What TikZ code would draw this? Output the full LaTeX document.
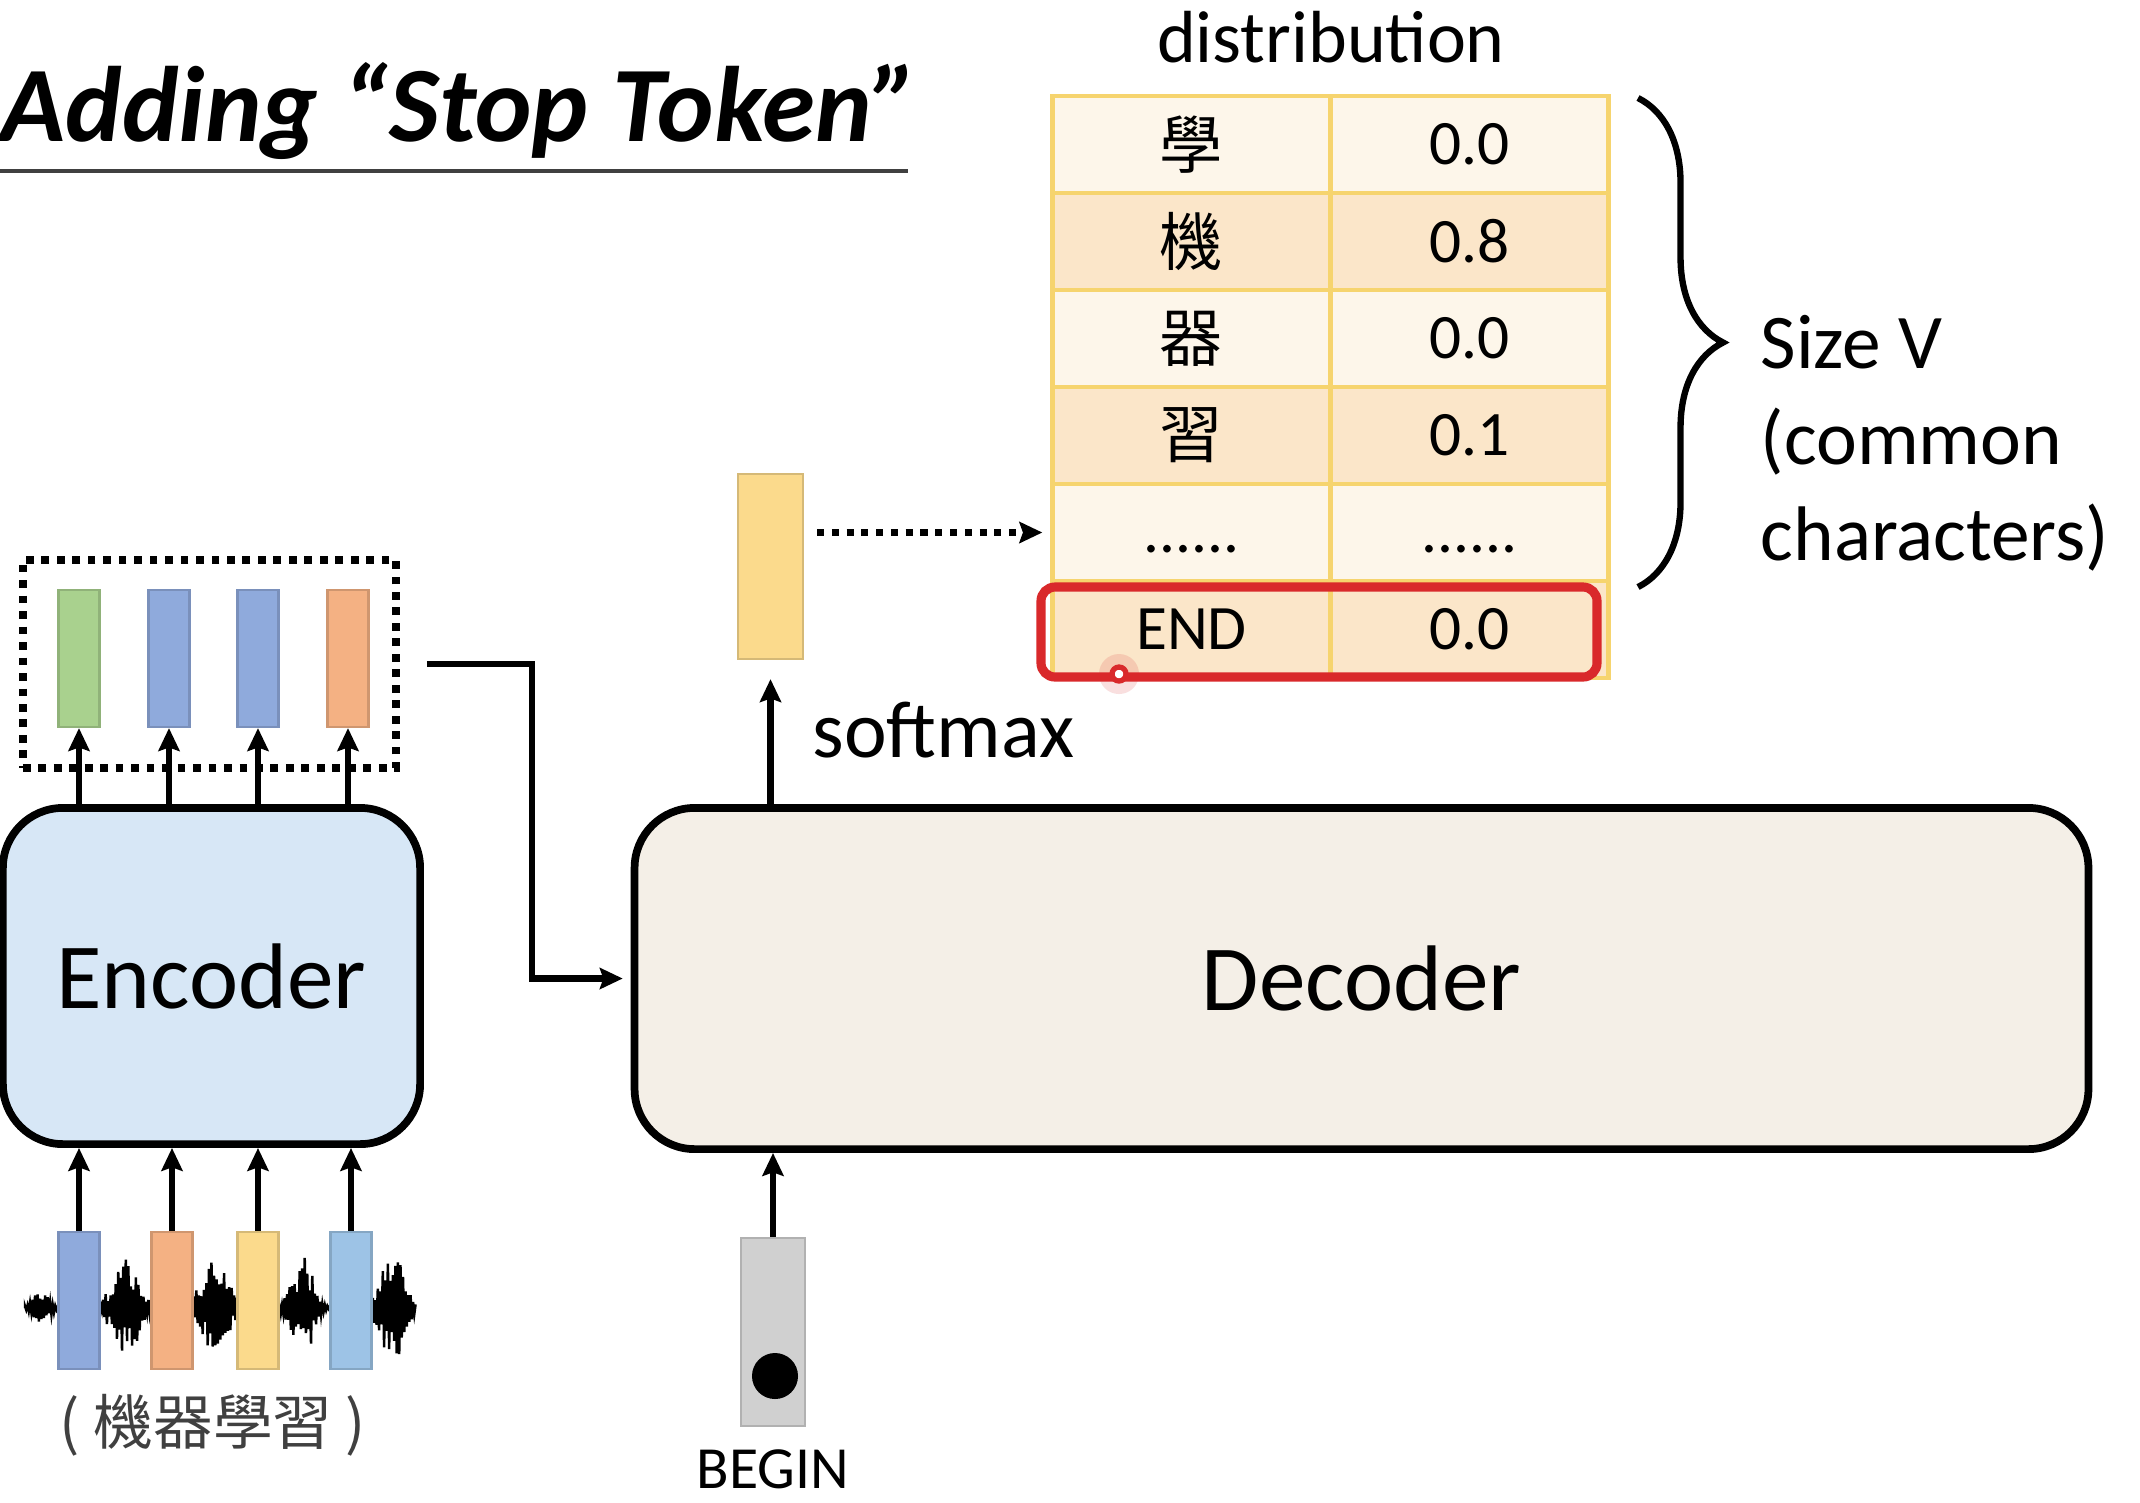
\documentclass[tikz,border=0pt]{standalone}
\usepackage{fontspec}
\setmainfont{Carlito}
\newfontfamily\cjk{Noto Sans CJK TC}
\usepackage{tikz}
\usepackage{xcolor}
\usetikzlibrary{arrows.meta,positioning,decorations.pathreplacing}

\definecolor{encfill}{HTML}{D7E7F6}
\definecolor{decfill}{HTML}{F4EFE7}
\definecolor{vgreen}{HTML}{A9D18E}
\definecolor{vblue}{HTML}{8FAADC}
\definecolor{vorange}{HTML}{F4B183}
\definecolor{vyellow}{HTML}{FBDA8C}
\definecolor{vlblue}{HTML}{9DC3E6}
\definecolor{vgray}{HTML}{D0D0D0}
\definecolor{rowa}{HTML}{FDF6EA}
\definecolor{rowb}{HTML}{FBE6C9}
\definecolor{tabline}{HTML}{F6D46E}
\definecolor{endred}{HTML}{D9292B}
\newcommand{\sixdots}{\vphantom{0}.\kern0pt.\kern0pt.\kern0pt.\kern0pt.\kern0pt.}

\tikzstyle{block} = [rectangle, draw, line width=2.2pt, rounded corners=0.6cm, inner sep=0pt, font=\fontsize{26.5}{28}\selectfont]
\tikzstyle{vec} = [rectangle, draw, line width=0.6pt, minimum width=0.41cm, minimum height=1.37cm, inner sep=0pt]
\tikzstyle{cell} = [rectangle, draw=tabline, line width=1.2pt, minimum width=2.78cm, minimum height=0.97cm, inner sep=0pt, font=\fontsize{18}{20}\selectfont]
\tikzstyle{arr} = [->, line width=1.8pt]

\begin{document}
\begin{tikzpicture}[>={Stealth[length=6.5pt,width=6pt,inset=1pt]}, x=0.01cm, y=-0.01cm]
  \fill[white] (0,0) rectangle (2140,1502);
  \useasboundingbox (0,0) rectangle (2140,1502);

  % title
  \node[anchor=base west, inner sep=0pt, font=\fontsize{30.5}{32}\selectfont\bfseries\itshape] (title) at (0,141) {Adding “Stop Token”};
  \draw[line width=1.2pt, black!75] (0,171) -- (908,171);

  % encoder side
  \node[block, fill=encfill, minimum width=4.17cm, minimum height=3.36cm] (enc) at (211.5,976) {Encoder};
  \node[draw, line width=2.2pt, dash pattern=on 2.2pt off 2.2pt, minimum width=3.73cm, minimum height=2.08cm] (hbox) at (209.5,664) {};
  \foreach \x/\c [count=\i] in {79/vgreen, 169/vblue, 258/vblue, 348/vorange} {
    \node[vec, fill=\c, draw=\c!85!black] (h\i) at (\x,658.5) {};
    \draw[arr] (enc.north -| h\i) -- (h\i.south);
  }

  % waveform
  \pgfmathsetseed{11}
  \draw[line width=0.7pt] (25,1308) \foreach \k in {0,...,310} {
    -- ({25+1.26*\k}, {1308+(2*mod(\k,2)-1)*(0.35+0.65*rnd)*(2
      + 20*max(0,1-abs(25+1.26*\k-42)/16)
      + 55*max(0,1-abs(25+1.26*\k-126)/26)
      + 60*max(0,1-abs(25+1.26*\k-215)/26)
      + 52*max(0,1-abs(25+1.26*\k-303)/24)
      + 62*max(0,1-abs(25+1.26*\k-393)/24))})
  };
  \foreach \x/\c [count=\i] in {79/vblue, 172/vorange, 258/vyellow, 351/vlblue} {
    \node[vec, fill=\c, draw=\c!85!black] (x\i) at (\x,1300.5) {};
    \draw[arr] (x\i.north) -- (enc.south -| x\i);
  }
  \node[anchor=base, inner sep=0pt, text=black!75, font=\cjk\fontsize{17}{19}\selectfont] (xlab) at (213,1444) {( 機器學習 )};

  % decoder side
  \node[block, fill=decfill, minimum width=14.53cm, minimum height=3.41cm] (dec) at (1361.5,978.5) {Decoder};
  \draw[arr, shorten >=0.08cm] ([xshift=0.27cm]hbox.east) -- ++(105,0) |- (dec.west);

  \node[vec, fill=vgray, draw=vgray!85!black, minimum width=0.64cm, minimum height=1.88cm] (bvec) at (773,1332) {};
  \node[circle, fill=black, minimum size=0.46cm, inner sep=0pt] (bdot) at (775,1376) {};
  \draw[arr] (bvec.north) -- (dec.south -| bvec);
  \node[anchor=base, inner sep=0pt, font=\fontsize{17}{19}\selectfont] (blab) at (773,1488) {BEGIN};

  \node[vec, fill=vyellow, draw=vyellow!85!black, minimum width=0.65cm, minimum height=1.85cm] (ovec) at (770.5,566.5) {};
  \draw[arr, shorten >=0.19cm] (dec.north -| ovec) -- (ovec.south);
  \node[anchor=base west, inner sep=0pt, font=\fontsize{23}{25}\selectfont] (smax) at (812,757) {softmax};

  % distribution table
  \node[anchor=base, inner sep=0pt, font=\fontsize{21}{23}\selectfont] (dist) at (1331,62) {distribution};
  \foreach \ch/\p/\fc [count=\i] in {{\cjk 學}/0.0/rowa, {\cjk 機}/0.8/rowb, {\cjk 器}/0.0/rowa, {\cjk 習}/0.1/rowb, \sixdots/\sixdots/rowa, END/0.0/rowb} {
    \node[cell, fill=\fc] (c\i) at (1191.5,{47.5+97*\i}) {\ch};
    \node[cell, fill=\fc] (p\i) at (1469.5,{47.5+97*\i}) {\p};
  }
  \draw[arr, line width=2pt, dash pattern=on 2pt off 2.2pt, shorten <=0.13cm, shorten >=0.08cm] (ovec.east |- c5.west) -- (c5.west);

  % highlight of END row
  \draw[endred, line width=2.6pt, rounded corners=0.14cm] (1041,587) rectangle (1597,677);
  \fill[endred, opacity=0.15] (1119,674) circle (0.2cm);
  \draw[endred, fill=white, line width=1.5pt] (1119,674) circle (0.07cm);

  % brace and size
  \draw[line width=1.8pt, decorate, decoration={brace, amplitude=0.85cm}] (1638,98) -- (1638,587);
  \node[anchor=base west, inner sep=0pt, font=\fontsize{22}{24}\selectfont] (sz1) at (1760,368) {Size V};
  \node[anchor=base west, inner sep=0pt, font=\fontsize{22}{24}\selectfont] (sz2) at (1760,464) {(common};
  \node[anchor=base west, inner sep=0pt, font=\fontsize{22}{24}\selectfont] (sz3) at (1760,560) {characters)};
\end{tikzpicture}
\end{document}
